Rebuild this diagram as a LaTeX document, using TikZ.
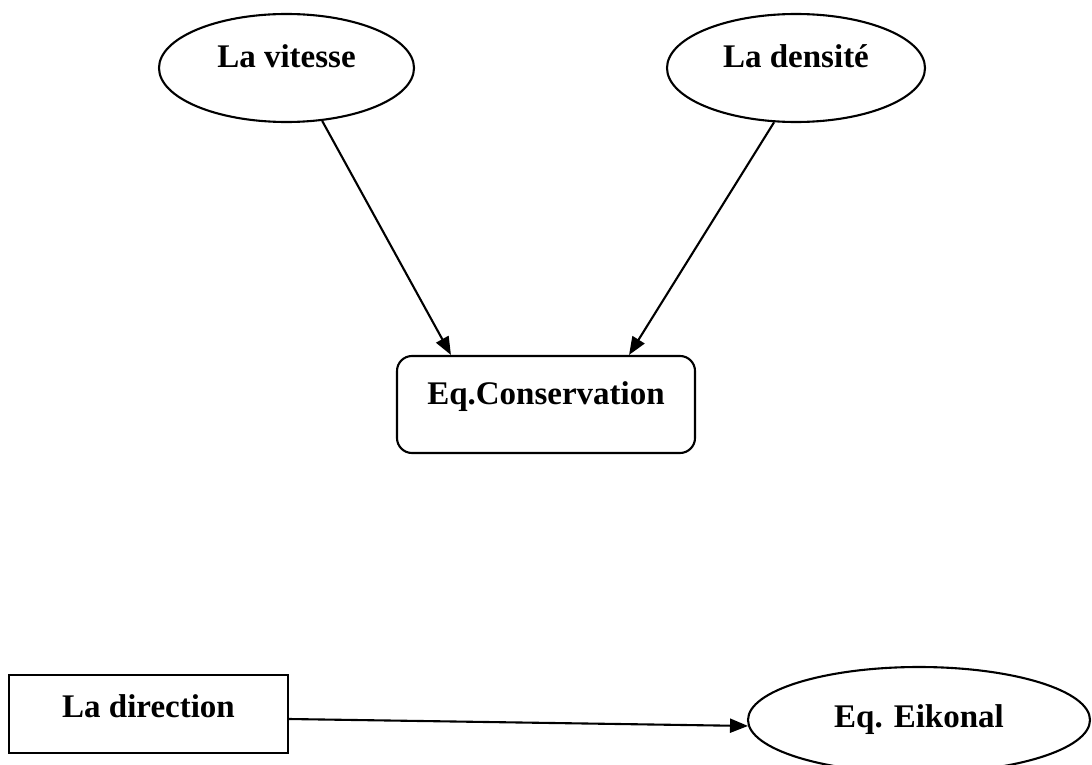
\documentclass[tikz,border=0pt]{standalone}
\usepackage{fontspec}
\setmainfont{Liberation Serif}
\usetikzlibrary{shapes.geometric,arrows.meta}

\begin{document}
\begin{tikzpicture}[x=0.5pt, y=-0.5pt, line width=1.05pt,
	font=\fontsize{16.5}{19}\selectfont\bfseries,
	oval/.style = {draw, ellipse, inner sep=0pt, text height=11pt, text depth=11pt},
	box/.style = {draw, rectangle, inner sep=0pt, text height=11pt, text depth=11pt},
	arr/.style = {-{Triangle[length=9pt,width=7pt]}}]
	\clip (0,0) rectangle (1092,765);
	\node[oval, minimum width=127.5pt, minimum height=54pt] (V) at (286.5,68) {La vitesse};
	\node[oval, minimum width=129pt, minimum height=54pt] (D) at (796,68) {La densit\'e};
	\node[box, rounded corners=7.5pt, minimum width=149pt, minimum height=48.5pt] (C) at (546,404.5) {Eq.Conservation};
	\node[box, text depth=8pt, minimum width=139.5pt, minimum height=39pt] (R) at (148.5,714) {La direction};
	\node[oval, text depth=4pt, minimum width=171pt, minimum height=53pt] (E) at (919,720) {Eq. Eikonal};
	\draw[arr] (V.304) -- ([xshift=27.5pt]C.north west);
	\draw[arr] (D.248) -- ([xshift=-33.5pt]C.north east);
	\draw[arr] ([yshift=-2.5pt]R.east) -- (E.182);
\end{tikzpicture}
\end{document}
